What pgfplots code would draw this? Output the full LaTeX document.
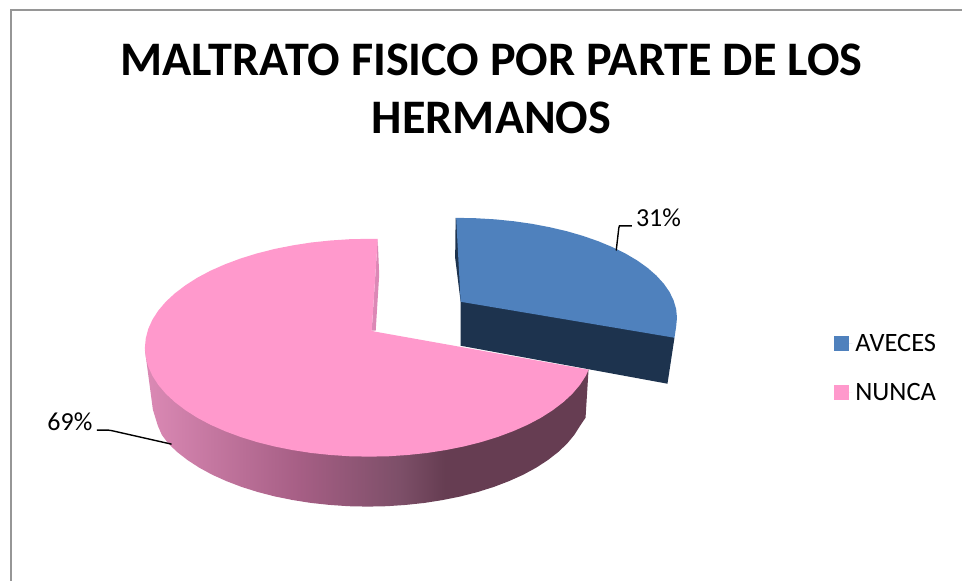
\documentclass[border=0pt]{standalone}
\usepackage{pgfplots}
\pgfplotsset{compat=1.18}
\usepackage{fontspec}
\setmainfont{Carlito}
\definecolor{bluetop}{HTML}{4F81BD}
\definecolor{bluedark}{HTML}{1D334E}
\definecolor{pinktop}{HTML}{FF99CC}
\definecolor{pinkstrip}{HTML}{DC88B6}
\definecolor{framegray}{HTML}{969696}
\pgfdeclarehorizontalshading{pinkside}{100bp}{
  rgb(0bp)=(0.86,0.54,0.71);
  rgb(25bp)=(0.86,0.54,0.71);
  rgb(42.5bp)=(0.65,0.37,0.52);
  rgb(53.7bp)=(0.49,0.31,0.41);
  rgb(58.8bp)=(0.40,0.24,0.32);
  rgb(75bp)=(0.40,0.24,0.32);
  rgb(100bp)=(0.40,0.24,0.32)}
\begin{document}
\begin{tikzpicture}
\begin{axis}[
  width=963pt,height=581pt,scale only axis,
  xmin=0,xmax=963,ymin=0,ymax=581,y dir=reverse,
  hide axis,clip=false,
  legend cell align=left,
  legend image code/.code={\fill[#1,draw=none] (0pt,-7.5pt) rectangle (15pt,7.5pt);\path (0pt,0pt) -- (18pt,0pt);},
  legend style={at={(axis cs:834,343.5)},anchor=north west,yshift=9pt,xshift=1pt,draw=none,fill=none,
    font=\fontsize{26.5}{30}\selectfont,inner sep=0pt,outer sep=0pt,
    /tikz/row sep=30pt,
    nodes={inner xsep=3pt,inner ysep=0pt}},
]
% page extent
\path (axis cs:0,0) rectangle (axis cs:963,581);
% frame
\addplot[forget plot,framegray,line width=1.5pt] coordinates {(11,581) (11,10) (963,10)};
% blue slice
\addplot[forget plot,draw=none,fill=bluedark] coordinates {(456,218) (455.5,258) (461,302) (461,346) (668,384) (675,338)};
\addplot[draw=none,fill=bluetop] coordinates {
(456.5,218) (476.2,218.4) (495.3,219.5) (514.1,221.4) (532.4,224) (550.2,227.4) (567.3,231.4) (583.5,236.1)
(598.7,241.4) (612.9,247.3) (625.9,253.7) (637.6,260.6) (648,268) (656.8,275.7) (664.2,283.8) (670,292.1)
(674.1,300.6) (676.7,309.3) (677.5,318) (676.7,326.7) (675,338) (461,302)};
\addlegendentry{AVECES}
% pink side
\addplot[forget plot,draw=none,shade,shading=pinkside] coordinates {
(145,350) (153,410) (158,426.2) (162,435.3) (168.6,444.1) (177.5,452.5) (187.8,460.5) (199.5,468.1) (212.4,475.1)
(226.6,481.5) (241.8,487.3) (258,492.4) (275,496.8) (292.8,500.4) (311.1,503.3) (329.8,505.3) (348.8,506.6)
(368,507) (387.2,506.6) (406.2,505.3) (424.9,503.3) (443.2,500.4) (461,496.8) (478,492.4) (494.2,487.3)
(509.4,481.5) (523.6,475.1) (536.5,468.1) (548.2,460.5) (558.5,452.5) (567.4,444.1) (574.7,435.3) (580.5,426.2)
(586,418) (589,370) (369,380)};
% pink inner strip
\addplot[forget plot,draw=none,fill=pinkstrip] coordinates {(378,239) (379.5,275) (376,331) (372,331)};
% pink top
\addplot[draw=none,fill=pinktop] coordinates {
(378,239) (369.4,239) (349.8,239.4) (330.4,240.7) (311.3,242.7) (292.7,245.6) (274.6,249.2) (257.2,253.6)
(240.7,258.7) (225.2,264.5) (210.7,270.9) (197.5,277.9) (185.6,285.5) (175.1,293.5) (166,301.9) (158.5,310.7)
(152.6,319.8) (148.4,329.1) (145.9,338.5) (145,348) (145.9,357.5) (148.4,366.9) (152.6,376.2) (158.5,385.3)
(166,394.1) (175.1,402.5) (185.6,410.5) (197.5,418.1) (210.7,425.1) (225.2,431.5) (240.7,437.3) (257.2,442.4)
(274.6,446.8) (292.7,450.4) (311.3,453.3) (330.4,455.3) (349.8,456.6) (369.4,457) (389,456.6) (408.4,455.3)
(427.5,453.3) (446.1,450.4) (464.2,446.8) (481.6,442.4) (498.1,437.3) (513.6,431.5) (528.1,425.1) (541.3,418.1)
(553.2,410.5) (563.7,402.5) (572.8,394.1) (580.3,385.3) (586.2,376.2) (589,370) (376,332) (372,331)};
\addlegendentry{NUNCA}
% leaders
\addplot[forget plot,black,line width=1.4pt] coordinates {(616.7,250.7) (619.3,228) (620,226) (622,226) (632.3,226)};
\addplot[forget plot,black,line width=1.4pt] coordinates {(97,430.4) (108,430.4) (112,431) (171.7,444.5)};
% labels
\node[anchor=center,font=\fontsize{26}{30}\selectfont] at (axis cs:659,218) {31\%};
\node[anchor=center,font=\fontsize{26}{30}\selectfont] at (axis cs:70,422.5) {69\%};
\node[anchor=center,align=center,font=\fontsize{48.2}{58}\bfseries\selectfont] at (axis cs:492,89) {MALTRATO FISICO POR PARTE DE LOS\\HERMANOS};
\end{axis}
\end{tikzpicture}
\end{document}
